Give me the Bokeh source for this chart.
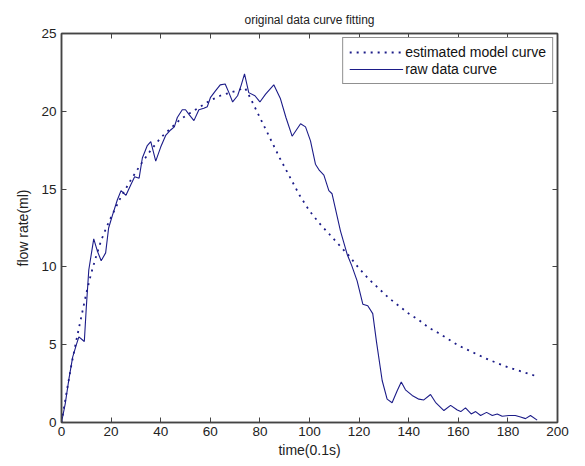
from bokeh.plotting import figure
from bokeh.models import LinearAxis, FixedTicker, Range1d, Legend, LegendItem
from bokeh.embed import file_html
from bokeh.resources import INLINE

# model curve (dotted)
model_t = [0, 2, 4, 6, 8, 10, 12, 14, 16, 18, 20, 24, 28, 32, 36, 40, 44, 48, 52, 56,
           60, 64, 68, 72, 74, 76, 80, 84, 88, 92, 96, 100, 104, 108, 112, 116, 120,
           124, 128, 132, 136, 140, 144, 148, 152, 156, 160, 164, 168, 172, 176, 180,
           184, 188, 192]
model_y = [0, 1.9, 3.7, 5.3, 6.8, 8.3, 9.6, 10.7, 11.7, 12.5, 13.2, 14.5, 15.6, 16.6,
           17.5, 18.3, 18.9, 19.5, 19.9, 20.3, 20.7, 21.0, 21.2, 21.4, 21.5, 20.9, 19.6,
           18.3, 17.0, 15.8, 14.6, 13.6, 12.8, 12.1, 11.4, 10.7, 9.9, 9.2, 8.6, 8.0,
           7.5, 7.0, 6.6, 6.1, 5.75, 5.35, 4.95, 4.65, 4.35, 4.05, 3.8, 3.55, 3.35,
           3.15, 2.95]

# raw data curve (solid)
raw_t = [0, 1.5, 3, 4.5, 6, 7, 8.5, 9.2, 10, 11, 12, 13, 14.5, 16, 17.8, 19, 20.5,
         22.5, 24, 26, 28, 29.5, 31.3, 32.6, 34.6, 36, 38, 40, 42, 44, 45.5, 46.7,
         48.7, 50, 51.4, 53.4, 55.4, 57.4, 58.8, 60.1, 62, 64, 66, 67.5, 69, 71, 72.5,
         73.8, 75.5, 78, 80, 82.3, 85.6, 88.3, 90.5, 93, 96.4, 98.4, 100.4, 102.4,
         104, 105.8, 107.8, 109.1, 112.5, 115.2, 117, 119.2, 121.5, 123.5, 125.5, 127,
         129.3, 131.3, 133.3, 135.4, 137, 138.7, 141.4, 144.1, 146.1, 148.8, 150.8,
         154.2, 156.9, 159.6, 161, 162.9, 165.2, 167, 169, 171.4, 173.7, 175.7, 177.7,
         180.4, 183, 185.1, 187.1, 189.1, 191.8]
raw_y = [0, 1.2, 2.8, 4.2, 5.0, 5.5, 5.3, 5.2, 7.4, 9.8, 10.8, 11.8, 11.0, 10.4, 10.9,
         12.5, 13.3, 14.3, 14.9, 14.6, 15.3, 15.8, 15.7, 17.0, 17.8, 18.05, 16.8, 17.7,
         18.45, 18.8, 19.0, 19.6, 20.1, 20.1, 19.8, 19.4, 20.1, 20.2, 20.3, 20.9, 21.3,
         21.7, 21.75, 21.2, 20.6, 21.0, 21.7, 22.4, 21.2, 21.0, 20.6, 21.1, 21.7, 20.8,
         19.6, 18.4, 19.2, 19.0, 18.1, 16.6, 16.2, 15.9, 14.9, 14.7, 12.3, 10.8, 10.1,
         9.1, 7.6, 7.5, 7.0, 5.2, 2.7, 1.5, 1.27, 2.06, 2.6, 2.1, 1.74, 1.5, 1.45, 1.8,
         1.3, 0.77, 1.1, 0.8, 0.7, 0.94, 0.55, 0.7, 0.45, 0.65, 0.45, 0.55, 0.4, 0.45,
         0.45, 0.35, 0.25, 0.45, 0.15]

x_ticks = [0, 20, 40, 60, 80, 100, 120, 140, 160, 180, 200]
y_ticks = [0, 5, 10, 15, 20, 25]

FONT = "Liberation Sans"
BLUE = "#1c1c88"
AX = "#444444"

p = figure(width=585, height=466, output_backend="svg", toolbar_location=None,
           x_range=Range1d(0, 200), y_range=Range1d(0, 25),
           min_border_left=61, min_border_right=28, min_border_top=33,
           min_border_bottom=44, background_fill_color="white",
           border_fill_color="white")

p.title.text = "original data curve fitting"
p.title.align = "center"
p.title.text_font = FONT
p.title.text_font_size = "12px"
p.title.text_font_style = "normal"
p.title.text_color = "#222222"
p.title.offset = 0
p.title.standoff = 13

p.xgrid.visible = False
p.ygrid.visible = False
p.outline_line_color = AX
p.outline_line_width = 1.5

def style(ax, labels=True):
    ax.axis_line_color = AX
    ax.axis_line_width = 1.5
    ax.major_tick_in = 5
    ax.major_tick_out = 0
    ax.minor_tick_line_color = None
    ax.major_tick_line_color = AX
    ax.major_label_text_font = FONT
    ax.major_label_text_font_size = "13.5px"
    ax.major_label_text_color = "#222222"
    ax.axis_label_text_font = FONT
    ax.axis_label_text_font_size = "14px"
    ax.axis_label_text_font_style = "normal"
    ax.axis_label_text_color = "#222222"
    if not labels:
        ax.major_label_text_color = None
        ax.major_label_text_font_size = "1px"
        ax.major_label_standoff = 0

p.xaxis.ticker = FixedTicker(ticks=x_ticks)
p.yaxis.ticker = FixedTicker(ticks=y_ticks)
p.xaxis.axis_label = "time(0.1s)"
p.yaxis.axis_label = "flow rate(ml)"
style(p.xaxis[0])
style(p.yaxis[0])
p.xaxis.major_label_standoff = 4
p.yaxis.major_label_standoff = 5
p.xaxis.axis_label_standoff = 3
p.yaxis.axis_label_standoff = 7

top = LinearAxis(ticker=FixedTicker(ticks=x_ticks))
right = LinearAxis(ticker=FixedTicker(ticks=y_ticks))
style(top, labels=False)
style(right, labels=False)
p.add_layout(top, "above")
p.add_layout(right, "right")

r_model = p.line(model_t, model_y, line_color=BLUE, line_width=1.8, line_dash="2 5")
r_raw = p.line(raw_t, raw_y, line_color=BLUE, line_width=1.1)

legend = Legend(items=[LegendItem(label="estimated model curve", renderers=[r_model]),
                       LegendItem(label="raw data curve", renderers=[r_raw])],
                location="top_right")
legend.label_text_font = FONT
legend.label_text_font_size = "14px"
legend.label_text_color = "#111111"
legend.border_line_color = "#222222"
legend.border_line_width = 1
legend.background_fill_alpha = 1
legend.glyph_width = 54
legend.glyph_height = 14
legend.label_height = 14
legend.label_standoff = 2
legend.spacing = 1
legend.padding = 6
legend.margin = 4
p.add_layout(legend)

open("out.html", "w").write(file_html(p, INLINE))
